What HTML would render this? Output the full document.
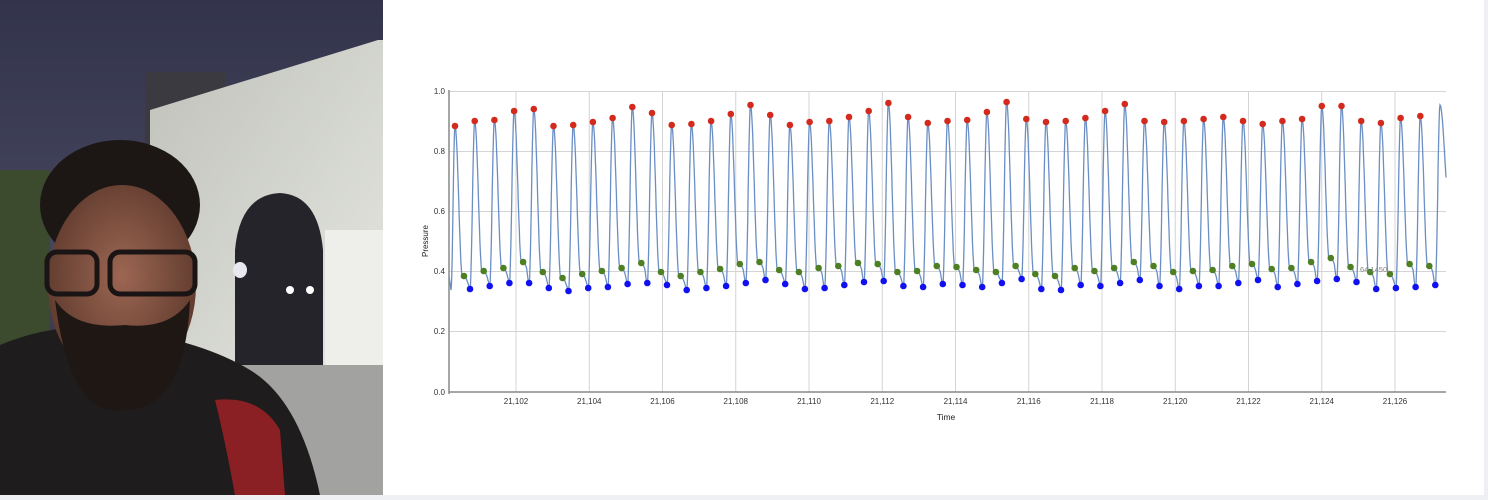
<!DOCTYPE html>
<html><head><meta charset="utf-8"><style>
html,body{margin:0;padding:0;background:#fff;width:1488px;height:500px;overflow:hidden;font-family:"Liberation Sans",sans-serif}
</style></head><body>
<svg width="1488" height="500" xmlns="http://www.w3.org/2000/svg" style="position:absolute;left:0;top:0">
<defs>
<linearGradient id="sky" x1="0" y1="0" x2="0" y2="1"><stop offset="0" stop-color="#33344c"/><stop offset="0.5" stop-color="#45465e"/><stop offset="1" stop-color="#2a2a30"/></linearGradient>
<linearGradient id="arch" x1="0" y1="0" x2="1" y2="1"><stop offset="0" stop-color="#bfc1ba"/><stop offset="1" stop-color="#e6e7e2"/></linearGradient>
<radialGradient id="face" cx="0.5" cy="0.45" r="0.55"><stop offset="0" stop-color="#9c6652"/><stop offset="1" stop-color="#5e3a2d"/></radialGradient>
</defs>
<rect x="0" y="0" width="1488" height="500" fill="#fff"/>
<rect x="1484" y="0" width="4" height="500" fill="#eef0f4"/>
<rect x="0" y="495" width="1488" height="5" fill="#eef0f4"/>
<rect x="0" y="0" width="383" height="495" fill="url(#sky)"/>
<rect x="0" y="170" width="50" height="200" fill="#3c4a2e"/>
<rect x="145" y="72" width="80" height="80" fill="#3a3a40"/>
<polygon points="150,110 378,40 383,40 383,380 150,380" fill="url(#arch)"/>
<path d="M235,370 L235,250 Q240,195 280,193 Q318,195 323,250 L323,370 Z" fill="#24242a"/>
<rect x="325" y="230" width="58" height="140" fill="#eeeeea"/>
<rect x="230" y="365" width="153" height="130" fill="#a2a2a0"/>
<ellipse cx="240" cy="270" rx="7" ry="8" fill="#e8e8f0"/>
<circle cx="290" cy="290" r="4" fill="#fff"/><circle cx="310" cy="290" r="4" fill="#fff"/>
<path d="M0,345 Q60,320 120,330 Q200,340 250,370 Q300,400 320,495 L0,495 Z" fill="#1e1c1c"/>
<path d="M215,400 Q260,395 280,430 L285,495 L235,495 Q225,440 215,400Z" fill="#8a1f24"/>
<ellipse cx="120" cy="205" rx="80" ry="65" fill="#1c1714"/>
<ellipse cx="122" cy="285" rx="74" ry="100" fill="url(#face)"/>
<path d="M55,300 Q70,420 125,410 Q185,410 190,300 Q170,330 125,325 Q75,330 55,300Z" fill="#1e1714"/>
<rect x="47" y="252" width="50" height="42" rx="10" fill="none" stroke="#1a1414" stroke-width="5"/>
<rect x="110" y="252" width="85" height="42" rx="10" fill="none" stroke="#1a1414" stroke-width="5"/>
<g stroke="#d4d4d4" stroke-width="1">
<line x1="449" y1="91.5" x2="1446" y2="91.5"/><line x1="449" y1="151.5" x2="1446" y2="151.5"/>
<line x1="449" y1="211.5" x2="1446" y2="211.5"/><line x1="449" y1="271.5" x2="1446" y2="271.5"/>
<line x1="449" y1="331.5" x2="1446" y2="331.5"/>
</g>
<g id="vg" stroke="#d4d4d4" stroke-width="1"></g>
<line x1="449" y1="392" x2="1446" y2="392" stroke="#888" stroke-width="1.5"/>
<line x1="449" y1="90" x2="449" y2="394" stroke="#888" stroke-width="1.5"/>
<g font-size="8" fill="#333" text-anchor="end">
<text x="445" y="94">1.0</text><text x="445" y="154">0.8</text><text x="445" y="214">0.6</text>
<text x="445" y="274">0.4</text><text x="445" y="334">0.2</text><text x="445" y="395">0.0</text>
</g>
<g id="xl" font-size="8" fill="#333" text-anchor="middle"></g>
<text x="428" y="241" font-size="8" fill="#222" text-anchor="middle" transform="rotate(-90 428 241)">Pressure</text>
<text x="946" y="420" font-size="8.5" fill="#222" text-anchor="middle">Time</text>
<path id="curve" fill="none" stroke="#6b8fc4" stroke-width="1.3"/>
<g id="dots"></g>
<text x="1360" y="272" font-size="7.5" fill="#888">64.1450...</text>
</svg>
<script>
var NS="http://www.w3.org/2000/svg";
var vg=document.getElementById('vg'),xl=document.getElementById('xl');
for(var i=0;i<13;i++){var x=516+i*73.25;
var l=document.createElementNS(NS,'line');l.setAttribute('x1',x);l.setAttribute('x2',x);l.setAttribute('y1',91);l.setAttribute('y2',392);vg.appendChild(l);
var t=document.createElementNS(NS,'text');t.setAttribute('x',x);t.setAttribute('y',404);t.textContent='21,'+(102+2*i);xl.appendChild(t);}
var ry=[126,121,120,111,109,126,125,122,118,107,113,125,124,121,114,105,115,125,122,121,117,111,103,117,123,121,120,112,102,119,122,121,118,111,104,121,122,121,119,117,121,124,121,119,106,106,121,123,118,116,105];
var gy=[276,271,268,262,272,278,274,271,268,263,272,276,272,269,264,262,270,272,268,266,263,264,272,271,266,267,270,272,266,274,276,268,271,268,262,266,272,271,270,266,264,269,268,262,258,267,272,274,264,266];
var by=[289,286,283,283,288,291,288,287,284,283,285,290,288,286,283,280,284,289,288,285,282,281,286,287,284,285,287,283,279,289,290,285,286,283,280,286,289,286,286,283,280,287,284,281,279,282,289,288,287,285];
var P=[];for(var i=0;i<51;i++)P.push(455+i*19.7);
var pts=[];function f(x,y){pts.push(x.toFixed(1)+','+y.toFixed(1));}
function cosi(a,b,t){return a+(b-a)*(1-Math.cos(Math.PI*t))/2;}
f(449,276);f(450,283);f(451,290);
for(var s=0;s<=1;s+=0.1)f(451+4*s,cosi(290,ry[0],s));
var dots=[];
for(var i=0;i<51;i++){var p=P[i],yp=ry[i];
 if(i==50){for(var s=0;s<=1;s+=0.1)f(p+6*s,cosi(yp,211,s*0.62));break;}
 var g=gy[i],b=by[i];
 for(var s=0.05;s<=1;s+=0.05)f(p+7.5*s,cosi(yp,g+2,s));
 f(p+9,g);f(p+11,g+2);f(p+12.5,g+6);f(p+14,b-3);f(p+15,b);
 var np=P[i+1],nyp=ry[i+1];
 for(var s=0.1;s<=1.001;s+=0.1)f(p+15+(np-p-15)*s,cosi(b,nyp,s));
 dots.push([p,yp,'#d42a1e']);dots.push([p+9,g,'#4e7f22']);dots.push([p+15,b,'#1010f0']);
}
document.getElementById('curve').setAttribute('d','M'+pts.join(' L'));
var dg=document.getElementById('dots');
dots.forEach(function(d){var c=document.createElementNS(NS,'circle');c.setAttribute('cx',d[0]);c.setAttribute('cy',d[1]);c.setAttribute('r',3.3);c.setAttribute('fill',d[2]);dg.appendChild(c);});
</script>
</body></html>
